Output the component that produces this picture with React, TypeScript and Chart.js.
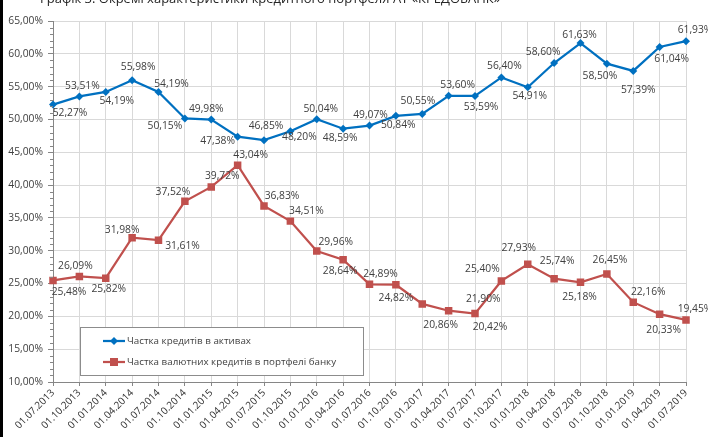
import React, { useEffect, useRef } from "react";
import { Chart, registerables } from "chart.js";

Chart.register(...registerables);

const titleText = "Графік 3. Окремі характеристики кредитного портфеля АТ «КРЕДОБАНК»";

const categories = [
  "01.07.2013", "01.10.2013", "01.01.2014", "01.04.2014", "01.07.2014", "01.10.2014",
  "01.01.2015", "01.04.2015", "01.07.2015", "01.10.2015", "01.01.2016", "01.04.2016",
  "01.07.2016", "01.10.2016", "01.01.2017", "01.04.2017", "01.07.2017", "01.10.2017",
  "01.01.2018", "01.04.2018", "01.07.2018", "01.10.2018", "01.01.2019", "01.04.2019",
  "01.07.2019",
];

const seriesNames = [
  "Частка кредитів в активах",
  "Частка валютних кредитів в портфелі банку",
];

const loansInAssets = [
  52.27, 53.51, 54.19, 55.98, 54.19, 50.15, 49.98, 47.38, 46.85, 48.2, 50.04, 48.59,
  49.07, 50.55, 50.84, 53.6, 53.59, 56.4, 54.91, 58.6, 61.63, 58.5, 57.39, 61.04, 61.93,
];

const fxLoansInPortfolio = [
  25.48, 26.09, 25.82, 31.98, 31.61, 37.52, 39.72, 43.04, 36.83, 34.51, 29.96, 28.64,
  24.89, 24.82, 21.9, 20.86, 20.42, 25.4, 27.93, 25.74, 25.18, 26.45, 22.16, 20.33, 19.45,
];

const yMin = 10;
const yMax = 65;
const yStep = 5;

// label placement offsets (style, px relative to the point)
const blueLabelOffsets: [number, number][] = [
  [17, 9], [3, -10], [11, 9], [6, -13], [13, -8], [-20, 8], [-5, -11], [-20, 4],
  [2, -14], [9, 6], [4, -10], [-3, 9], [1, -10], [22, -15], [-24, 11], [9, -11],
  [6, 11], [3, -11], [2, 9], [-11, -11], [-1, -8], [-7, 12], [5, 19], [12, 12], [9, -11],
];
const redLabelOffsets: [number, number][] = [
  [16, 12], [-4, -10], [3, 11], [-10, -8], [24, 6], [-12, -9], [11, -11], [13, -10],
  [18, -10], [16, -10], [19, -9], [-3, 11], [11, -10], [0, 13], [61, -5], [-8, 14],
  [15, 13], [-19, -12], [-9, -16], [3, -18], [-1, 15], [3, -14], [15, -10], [4, 16], [9, -11],
];

const BLUE = "#0070C0";
const RED = "#C0504D";
const TEXT = "#404040";
const FONT = "'Open Sans', sans-serif";

const fmt = (v: number) => v.toFixed(2).replace(".", ",") + "%";

const extrasPlugin = {
  id: "extras",
  afterDraw(chart: any) {
    const ctx = chart.ctx;
    const y = chart.scales.y;
    const area = chart.chartArea;
    ctx.save();
    // left page border
    ctx.fillStyle = "#000";
    ctx.fillRect(0, 0, 3, chart.height);
    // title (cut at top)
    ctx.fillStyle = "#262626";
    ctx.font = `13px ${FONT}`;
    ctx.textAlign = "left";
    ctx.textBaseline = "alphabetic";
    ctx.fillText(titleText, 40, 3);
    // minor ticks on y axis
    ctx.strokeStyle = "#868686";
    ctx.lineWidth = 1;
    for (let v = yMin; v <= yMax; v += 1) {
      if (v % yStep === 0) continue;
      const py = Math.round(y.getPixelForValue(v)) + 0.5;
      ctx.beginPath();
      ctx.moveTo(area.left - 3, py);
      ctx.lineTo(area.left, py);
      ctx.stroke();
    }
    ctx.restore();
  },
  afterDatasetsDraw(chart: any) {
    const ctx = chart.ctx;
    ctx.save();
    ctx.font = `10.3px ${FONT}`;
    ctx.fillStyle = TEXT;
    ctx.textAlign = "center";
    ctx.textBaseline = "middle";
    const offs = [blueLabelOffsets, redLabelOffsets];
    chart.data.datasets.forEach((ds: any, di: number) => {
      const meta = chart.getDatasetMeta(di);
      meta.data.forEach((pt: any, i: number) => {
        const [dx, dy] = offs[di][i];
        ctx.fillText(fmt(ds.data[i]), pt.x + dx, pt.y + dy);
      });
    });

    // legend box
    const bx = 80.5, by = 327.5, bw = 283, bh = 48;
    ctx.fillStyle = "#fff";
    ctx.fillRect(bx, by, bw, bh);
    ctx.strokeStyle = "#8c8c8c";
    ctx.lineWidth = 1;
    ctx.strokeRect(bx, by, bw, bh);
    const rows = [341, 362];
    const colors = [BLUE, RED];
    rows.forEach((ry, i) => {
      ctx.strokeStyle = colors[i];
      ctx.fillStyle = colors[i];
      ctx.lineWidth = 2.25;
      ctx.beginPath();
      ctx.moveTo(103, ry);
      ctx.lineTo(125, ry);
      ctx.stroke();
      const cx = 114;
      ctx.beginPath();
      if (i === 0) {
        ctx.moveTo(cx, ry - 4);
        ctx.lineTo(cx + 4, ry);
        ctx.lineTo(cx, ry + 4);
        ctx.lineTo(cx - 4, ry);
        ctx.closePath();
        ctx.fill();
      } else {
        ctx.fillRect(cx - 4, ry - 4, 8, 8);
      }
      ctx.fillStyle = TEXT;
      ctx.font = `9.8px ${FONT}`;
      ctx.textAlign = "left";
      ctx.textBaseline = "middle";
      ctx.fillText(seriesNames[i], 127, ry);
    });
    ctx.restore();
  },
};

export default function App() {
  const ref = useRef<HTMLCanvasElement | null>(null);
  useEffect(() => {
    if (!ref.current) return;
    const chart = new Chart(ref.current, {
      type: "line",
      data: {
        labels: categories,
        datasets: [
          {
            label: seriesNames[0],
            data: loansInAssets,
            borderColor: BLUE,
            backgroundColor: BLUE,
            borderWidth: 2.25,
            pointStyle: "rectRot",
            pointRadius: 4,
            pointBorderWidth: 0,
            tension: 0,
          },
          {
            label: seriesNames[1],
            data: fxLoansInPortfolio,
            borderColor: RED,
            backgroundColor: RED,
            borderWidth: 2.25,
            pointStyle: "rect",
            pointRadius: 5.3,
            pointBorderWidth: 0,
            tension: 0,
          },
        ],
      },
      options: {
        animation: false,
        responsive: true,
        maintainAspectRatio: false,
        layout: { padding: { top: 21, right: 22, left: 0, bottom: 0 } },
        plugins: { legend: { display: false }, tooltip: { enabled: false }, title: { display: false } },
        scales: {
          x: {
            type: "category",
            offset: false,
            grid: { color: "#d9d9d9", tickColor: "#868686", tickLength: 4, lineWidth: 1 },
            border: { color: "#868686" },
            ticks: {
              maxRotation: 45,
              minRotation: 45,
              autoSkip: false,
              padding: 1,
              color: "#333333",
              font: { family: FONT, size: 10 },
            },
            afterFit: (s: any) => {
              s.height = 55;
            },
          },
          y: {
            min: yMin,
            max: yMax,
            grid: { color: "#d9d9d9", tickColor: "#868686", tickLength: 5, lineWidth: 1 },
            border: { color: "#868686" },
            ticks: {
              stepSize: yStep,
              padding: 5,
              color: TEXT,
              font: { family: FONT, size: 10.3 },
              callback: (v: any) => fmt(Number(v)),
            },
            afterFit: (s: any) => {
              s.width = 53;
            },
          },
        },
      },
      plugins: [extrasPlugin],
    });
    return () => chart.destroy();
  }, []);
  return (
    <div style={{ position: "absolute", left: 0, top: 0, width: 708, height: 437, background: "#fff" }}>
      <canvas ref={ref} />
    </div>
  );
}
